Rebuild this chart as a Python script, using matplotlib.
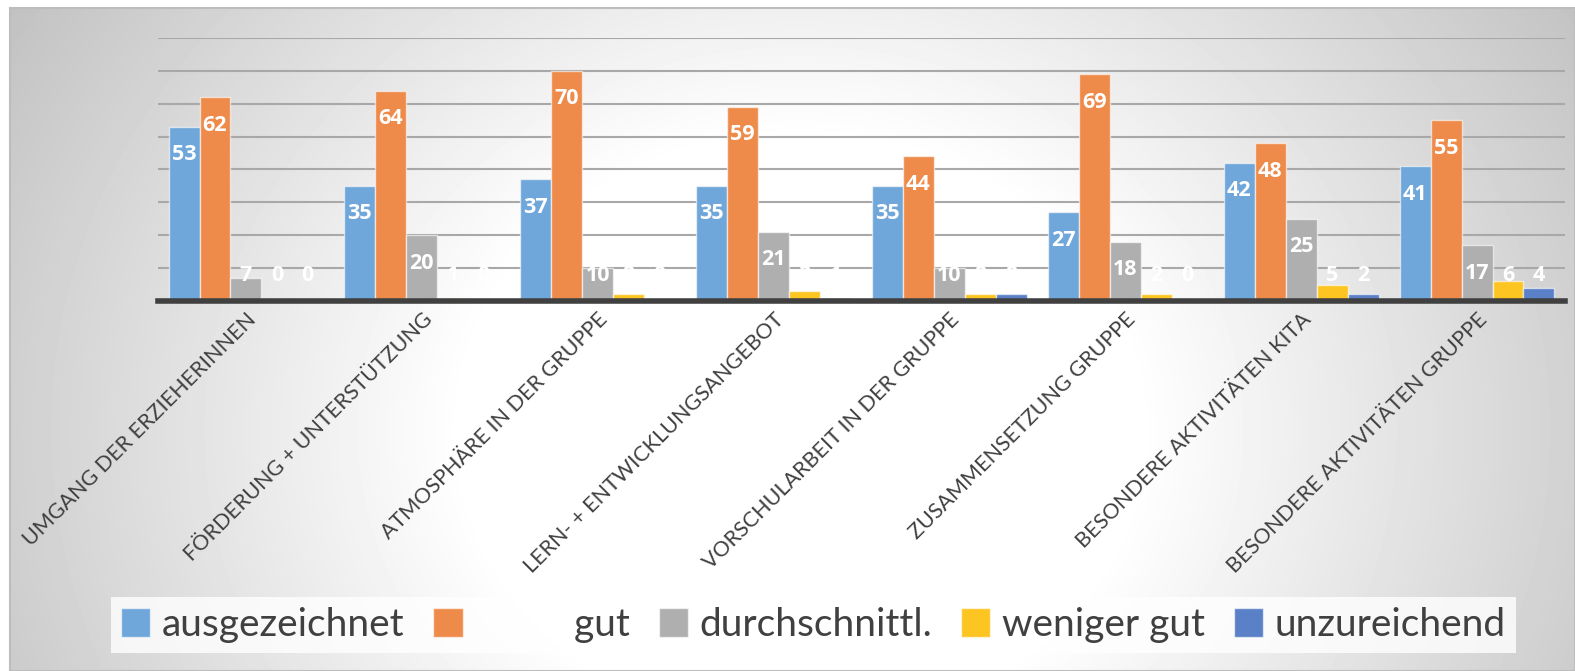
import numpy as np
import matplotlib
matplotlib.use("Agg")
import matplotlib.pyplot as plt

# Daten aus dem Diagramm
kategorien = ["UMGANG DER ERZIEHERINNEN", "FÖRDERUNG + UNTERSTÜTZUNG",
              "ATMOSPHÄRE IN DER GRUPPE", "LERN- + ENTWICKLUNGSANGEBOT",
              "VORSCHULARBEIT IN DER GRUPPE", "ZUSAMMENSETZUNG GRUPPE",
              "BESONDERE AKTIVITÄTEN KITA", "BESONDERE AKTIVITÄTEN GRUPPE"]
ausgezeichnet = [53, 35, 37, 35, 35, 27, 42, 41]
gut = [62, 64, 70, 59, 44, 69, 48, 55]
durchschnittl = [7, 20, 10, 21, 10, 18, 25, 17]
weniger_gut = [0, 1, 2, 3, 2, 2, 5, 6]
unzureichend = [0, 0, 0, 1, 2, 0, 2, 4]

serien = [ausgezeichnet, gut, durchschnittl, weniger_gut, unzureichend]
namen = ["ausgezeichnet", "          gut", "durchschnittl.", "weniger gut", "unzureichend"]
farben = ["#70A7DA", "#EE8B4B", "#AFAFAF", "#FDC521", "#5A80C8"]

W, H = 1575, 671
fig = plt.figure(figsize=(W / 100, H / 100), dpi=100)

# Hintergrund mit radialem Verlauf
bg = fig.add_axes([10 / W, 0, 1 - 10 / W, 1 - 8 / H])
yy, xx = np.mgrid[8:H, 10:W]
d = np.sqrt(((xx - 800) / 750.0) ** 2 + ((yy - 430) / 650.0) ** 2)
v = 1 - 0.26 * np.clip((d - 0.45) / 0.85, 0, 1)
bg.imshow(v, cmap="gray", vmin=0, vmax=1, aspect="auto", interpolation="bilinear")
bg.set_xticks([])
bg.set_yticks([])
for s in bg.spines.values():
    s.set_color("#bdbdbd")
    s.set_linewidth(1.5)

ax = fig.add_axes([158 / W, 1 - 301 / H, (1565 - 158) / W, (301 - 38) / H])
ax.set_facecolor("none")

x = np.arange(len(kategorien))
bw = 0.176
for i, (werte, name, farbe) in enumerate(zip(serien, namen, farben)):
    pos = x + (i - 2) * bw
    ax.bar(pos, werte, bw, color=farbe, edgecolor=(1, 1, 1, 0.6), linewidth=1,
           label=name, zorder=3)
    for px, w in zip(pos, werte):
        ax.text(px, max(w - 8.5, 7.7), str(w), ha="center", va="center",
                color="white", fontsize=15.5, fontweight="bold",
                family="Open Sans", zorder=4)

ax.set_xlim(-0.5, len(kategorien) - 0.5)
ax.set_ylim(0, 80)
ax.set_yticks(np.arange(10, 81, 10))
ax.yaxis.grid(True, color="#a8a8a8", linewidth=1.5, zorder=1)
ax.tick_params(axis="y", length=0, labelleft=False)
ax.tick_params(axis="x", length=0, pad=6)
ax.set_xticks(x)
ax.set_xticklabels(kategorien, rotation=45, ha="right", rotation_mode="anchor",
                   fontsize=15.5, color="#404040", family="Lato")
for s in ["left", "right", "top"]:
    ax.spines[s].set_visible(False)
ax.spines["bottom"].set_color("#404040")
ax.spines["bottom"].set_linewidth(4)
ax.spines["bottom"].set_zorder(5)

leg = fig.legend(loc="center", ncol=5, mode="expand",
                 bbox_to_anchor=(92 / W, 1 - 660 / H, 1443 / W, 70 / H),
                 prop={"family": "Lato", "size": 28}, labelcolor="#404040",
                 handlelength=0.75, handleheight=0.75, handletextpad=0.3,
                 frameon=True, fancybox=False, borderpad=0.25)
leg.get_frame().set_facecolor((1, 1, 1, 0.4))
leg.get_frame().set_edgecolor("none")

fig.savefig("out.png", dpi=100)
